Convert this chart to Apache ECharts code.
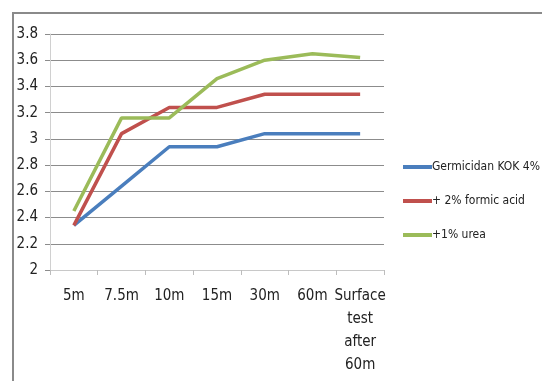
<!DOCTYPE html>
<html>
<head>
<meta charset="utf-8">
<script src="https://cdn.jsdelivr.net/npm/echarts@6/dist/echarts.min.js"></script>
<style>
  html, body { margin: 0; padding: 0; background: #fff; }
  #chart { width: 542px; height: 381px; }
</style>
</head>
<body>
<div id="chart"></div>
<script>
// Time points of the measurements
const categories = ['5m', '7.5m', '10m', '15m', '30m', '60m', 'Surface\ntest\nafter\n60m'];

// Measured values per treatment
const germicidanValues = [2.34, 2.64, 2.94, 2.94, 3.04, 3.04, 3.04];
const formicAcidValues = [2.34, 3.04, 3.24, 3.24, 3.34, 3.34, 3.34];
const ureaValues = [2.45, 3.16, 3.16, 3.46, 3.60, 3.65, 3.62];

const seriesNames = ['Germicidan KOK 4%', '+ 2% formic acid', '+1% urea'];
const seriesColors = ['#4A7EBD', '#C0504D', '#9BBB59'];

const FONT = "'Liberation Sans Narrow', 'DejaVu Sans Condensed', sans-serif";

const chart = echarts.init(document.getElementById('chart'), null, { renderer: 'canvas' });

function lineSeries(name, data, color) {
  return {
    name: name,
    type: 'line',
    data: data,
    symbol: 'none',
    lineStyle: { color: color, width: 3.5 },
    itemStyle: { color: color },
    animation: false
  };
}

chart.setOption({
  animation: false,
  backgroundColor: '#fff',
  graphic: [
    {
      type: 'polyline',
      shape: { points: [[13, 381], [13, 13], [542, 13]] },
      style: { stroke: '#8a8a8a', lineWidth: 2, fill: null },
      silent: true
    }
  ],
  grid: { left: 50, right: 158, top: 34, bottom: 111, containLabel: false },
  legend: {
    orient: 'vertical',
    left: 398,
    top: 156,
    itemWidth: 29,
    itemHeight: 4,
    itemGap: 22,
    icon: 'rect',
    data: seriesNames,
    textStyle: { fontFamily: FONT, fontSize: 12, color: '#222', padding: [0, 0, 0, -5] }
  },
  xAxis: {
    type: 'category',
    data: categories,
    boundaryGap: true,
    axisLine: { show: true, lineStyle: { color: '#c8c8c8', width: 1 } },
    axisTick: { show: true, length: 5, lineStyle: { color: '#bdbdbd' } },
    axisLabel: {
      interval: 0,
      margin: 15,
      fontFamily: FONT,
      fontSize: 15,
      color: '#222',
      lineHeight: 23,
      align: 'center',
      verticalAlign: 'top'
    },
    splitLine: { show: false }
  },
  yAxis: {
    type: 'value',
    min: 2,
    max: 3.8,
    interval: 0.2,
    axisLine: { show: true, lineStyle: { color: '#d0d0d0', width: 1 } },
    axisTick: { show: true, length: 5, lineStyle: { color: '#8c8c8c' } },
    axisLabel: {
      margin: 12,
      fontFamily: FONT,
      fontSize: 15,
      color: '#222',
      formatter: function (v) { return String(Math.round(v * 10) / 10); }
    },
    splitLine: { show: true, lineStyle: { color: '#8c8c8c', width: 1 } }
  },
  series: [
    lineSeries(seriesNames[0], germicidanValues, seriesColors[0]),
    lineSeries(seriesNames[1], formicAcidValues, seriesColors[1]),
    lineSeries(seriesNames[2], ureaValues, seriesColors[2])
  ]
});
</script>
</body>
</html>
